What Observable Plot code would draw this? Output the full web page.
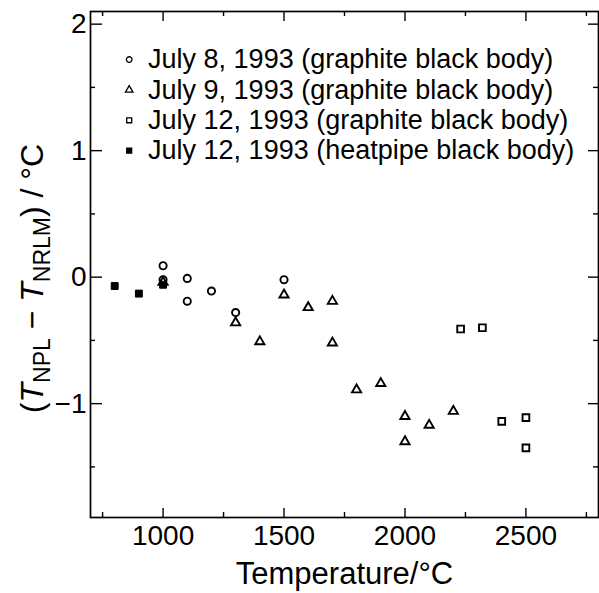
<!DOCTYPE html>
<html>
<head>
<meta charset="utf-8">
<script src="https://cdn.jsdelivr.net/npm/d3@7"></script>
<script src="https://cdn.jsdelivr.net/npm/@observablehq/plot@0.6"></script>
<style>
  html, body { margin: 0; padding: 0; background: #fff; }
  #chart { width: 599px; height: 593px; }
</style>
</head>
<body>
<div id="chart"></div>
<script>
// ---- data ----
const july8Graphite = [ // open circles
  {t: 1000, d: 0.09}, {t: 1000, d: -0.02}, {t: 1100, d: -0.01}, {t: 1100, d: -0.19},
  {t: 1200, d: -0.11}, {t: 1300, d: -0.28}, {t: 1500, d: -0.02}
];
const july9Graphite = [ // open triangles
  {t: 1000, d: -0.04}, {t: 1300, d: -0.36}, {t: 1400, d: -0.51}, {t: 1500, d: -0.14},
  {t: 1600, d: -0.24}, {t: 1700, d: -0.19}, {t: 1700, d: -0.52}, {t: 1800, d: -0.89},
  {t: 1900, d: -0.84}, {t: 2000, d: -1.10}, {t: 2000, d: -1.30}, {t: 2100, d: -1.17},
  {t: 2200, d: -1.06}
];
const july12Graphite = [ // open squares
  {t: 2230, d: -0.41}, {t: 2320, d: -0.40}, {t: 2400, d: -1.14}, {t: 2500, d: -1.11},
  {t: 2500, d: -1.35}
];
const july12Heatpipe = [ // filled squares
  {t: 800, d: -0.07}, {t: 900, d: -0.13}, {t: 1000, d: -0.06}
];
const legendLabels = [
  "July 8, 1993 (graphite black body)",
  "July 9, 1993 (graphite black body)",
  "July 12, 1993 (graphite black body)",
  "July 12, 1993 (heatpipe black body)"
];
const legendSymbols = ["circle", "triangle", "square", "square"];
const legendFilled = [false, false, false, true];
const legendY = [1.72, 1.48, 1.24, 1.0];
const legendX = 860;
const legendTextX = 938;

const xDomain = [700, 2800];
const yDomain = [-1.9, 2.1];
const xMajor = [1000, 1500, 2000, 2500];
const xMinor = [750, 1250, 1750, 2250, 2750];
const yMajor = [-1, 0, 1, 2];
const yMinor = [-1.5, -0.5, 0.5, 1.5];
const xLabel = "Temperature/°C";
const yLabel = "(TNPL − TNRLM) / °C";

// ---- layout ----
const W = 599, H = 593;
const mL = 90, mR = 1, mT = 11, mB = 76;
const innerH = H - mT - mB, innerW = W - mL - mR;
const major = 10, minor = 5;
const font = "'Liberation Sans', Arial, Helvetica, sans-serif";

const legendData = legendLabels.map((label, i) => ({
  label, symbol: legendSymbols[i], filled: legendFilled[i], y: legendY[i]
}));

const markStroke = 1.9;

const chart = Plot.plot({
  width: W, height: H,
  marginLeft: mL, marginRight: mR, marginTop: mT, marginBottom: mB,
  style: {fontFamily: font, background: "#fff", color: "#000"},
  x: {domain: xDomain},
  y: {domain: yDomain},
  marks: [
    Plot.frame({stroke: "#000", strokeWidth: 1.7}),
    // inward ticks: bottom & top
    Plot.tickX(xMajor, {x: d => d, stroke: "#000", strokeWidth: 1.4, insetTop: innerH - major + 1}),
    Plot.tickX(xMinor, {x: d => d, stroke: "#000", strokeWidth: 1.4, insetTop: innerH - minor}),
    Plot.tickX(xMajor, {x: d => d, stroke: "#000", strokeWidth: 1.4, insetBottom: innerH - major}),
    Plot.tickX(xMinor, {x: d => d, stroke: "#000", strokeWidth: 1.4, insetBottom: innerH - minor}),
    // inward ticks: left & right
    Plot.tickY(yMajor, {y: d => d, stroke: "#000", strokeWidth: 1.4, insetRight: innerW - major - 2}),
    Plot.tickY(yMinor, {y: d => d, stroke: "#000", strokeWidth: 1.4, insetRight: innerW - minor}),
    Plot.tickY(yMajor, {y: d => d, stroke: "#000", strokeWidth: 1.4, insetLeft: innerW - major}),
    Plot.tickY(yMinor, {y: d => d, stroke: "#000", strokeWidth: 1.4, insetLeft: innerW - minor}),
    // tick labels
    Plot.axisX({ticks: xMajor, tickSize: 0, tickPadding: 8, fontSize: 28, label: null, tickFormat: d => String(d)}),
    Plot.axisY({ticks: yMajor, tickSize: 0, tickPadding: 4, fontSize: 28, label: null,
      tickFormat: d => d < 0 ? "\u2212" + Math.abs(d) : String(d)}),
    // axis titles
    Plot.text([xLabel], {frameAnchor: "bottom", dy: 66, fontSize: 31, text: d => d, lineAnchor: "bottom"}),
    Plot.text([yLabel], {frameAnchor: "left", textAnchor: "middle", dx: -58, dy: 14, rotate: -90, fontSize: 32, text: d => d, lineAnchor: "middle"}),
    // data
    Plot.dot(july8Graphite, {x: "t", y: "d", symbol: "circle", r: 3.6, stroke: "#000", strokeWidth: markStroke, fill: "none"}),
    Plot.dot(july9Graphite, {x: "t", y: "d", symbol: "triangle", r: 3.4, stroke: "#000", strokeWidth: markStroke, fill: "none"}),
    Plot.dot(july12Graphite, {x: "t", y: "d", symbol: "square", r: 3.8, stroke: "#000", strokeWidth: markStroke, fill: "none"}),
    Plot.dot(july12Heatpipe, {x: "t", y: "d", symbol: "square", r: 3.9, stroke: "#000", strokeWidth: 1, fill: "#000"}),
    // legend inside the frame
    Plot.dot(legendData, {x: () => legendX, y: "y", symbol: "symbol", r: 2.8, stroke: "#000", strokeWidth: 1.3,
      fill: d => d.filled ? "#000" : "none"}),
    Plot.text(legendData, {x: () => legendTextX, y: "y", text: "label", textAnchor: "start", fontSize: 27, fill: "#000"})
  ],
  symbol: {type: "identity"}
});

// Render subscripts / italics in the y-axis title as real text tspans
const svg = chart.tagName.toLowerCase() === "svg" ? chart : chart.querySelector("svg");
svg.querySelectorAll("text").forEach(t => {
  if (t.textContent === yLabel) {
    const parts = [["(", ""], ["T", "it"], ["NPL", "sub"], [" \u2212 ", "back"], ["T", "it"], ["NRLM", "sub"], [") / °C", "back"]];
    const tsp = t.querySelector("tspan") || t;
    while (tsp.firstChild) tsp.removeChild(tsp.firstChild);
    const ns = "http://www.w3.org/2000/svg";
    for (const [s, kind] of parts) {
      const e = document.createElementNS(ns, "tspan");
      e.textContent = s;
      if (kind === "it") e.setAttribute("font-style", "italic");
      if (kind === "sub") { e.setAttribute("font-size", "23"); e.setAttribute("dy", "7"); }
      if (kind === "back") { e.setAttribute("dy", "-7"); }
      tsp.appendChild(e);
    }
  }
});

document.getElementById("chart").appendChild(chart);
</script>
</body>
</html>
